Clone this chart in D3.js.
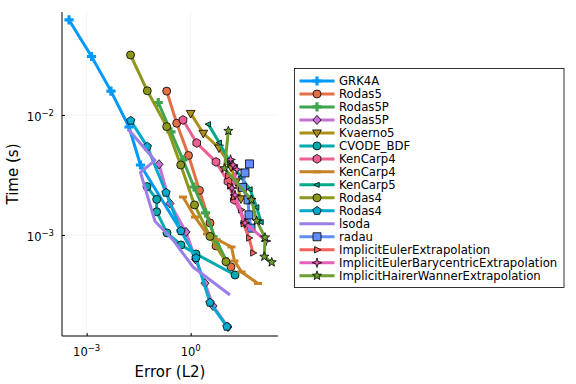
<!DOCTYPE html>
<html>
<head>
<meta charset="utf-8">
<script src="https://cdn.jsdelivr.net/npm/d3@7"></script>
<style>
  body { margin: 0; background: #fff; }
  text { font-family: "DejaVu Sans", sans-serif; }
</style>
</head>
<body>
<svg id="chart" width="576" height="384"></svg>
<script>
// series labels, colours and markers (in legend order)
const names = ["GRK4A", "Rodas5", "Rodas5P", "Rodas5P", "Kvaerno5", "CVODE_BDF", "KenCarp4", "KenCarp4",
  "KenCarp5", "Rodas4", "Rodas4", "lsoda", "radau", "ImplicitEulerExtrapolation",
  "ImplicitEulerBarycentricExtrapolation", "ImplicitHairerWannerExtrapolation"];
const colors = ["#009AFA", "#E36F47", "#3EA44E", "#C371D2", "#AC8E18", "#00AAAE", "#ED5E93", "#C68225",
  "#00A98D", "#8E971D", "#00A9CD", "#9B7FE9", "#618DF6", "#F4615C", "#E561B7", "#6AA031"];
const markers = ["cross", "circle", "cross", "diamond", "dtriangle", "circle", "hexagon", "hline",
  "ltriangle", "circle", "pentagon", "none", "rect", "rtriangle", "star4", "star5"];

// error (L2) and time (s) for each series
const errGRK4A = [3.09e-4, 1.38e-3, 5.02e-3, 1.66e-2, 3.56e-2, 0.525];
const timeGRK4A = [6.19e-2, 3.07e-2, 1.58e-2, 7.94e-3, 3.83e-3, 1.08e-3];
const errRodas5 = [0.203, 0.395, 0.865, 1.79, 3.60, 5.37, 14.5];
const timeRodas5 = [1.58e-2, 8.53e-3, 4.60e-3, 2.35e-3, 1.26e-3, 8.10e-4, 5.41e-4];
const errRodas5P = [0.116, 0.270, 0.600, 1.245, 2.67, 5.37, 11.1];
const timeRodas5P = [1.27e-2, 7.22e-3, 4.22e-3, 2.51e-3, 1.53e-3, 9.09e-4, 5.96e-4];
const errRodas5P2 = [0.122, 0.253, 0.732, 1.375, 2.59, 4.40, 11.9];
const timeRodas5P2 = [3.88e-3, 1.83e-3, 1.06e-3, 6.27e-4, 3.96e-4, 2.56e-4, 1.71e-4];
const errKvaerno5 = [1.0, 2.31, 6.55, 14.5, 20.3, 28.2];
const timeKvaerno5 = [1.03e-2, 7.04e-3, 5.31e-3, 3.69e-3, 2.77e-3, 2.0e-3];
const errCVODE = [5.49e-2, 0.1045, 0.1045, 0.207, 0.525, 1.42, 19.0];
const timeCVODE = [2.53e-3, 1.98e-3, 1.56e-3, 1.04e-3, 8.25e-4, 6.95e-4, 4.64e-4];
const errKenCarp4 = [0.600, 1.49, 5.37, 11.9, 18.1, 36.8];
const timeKenCarp4 = [9.08e-3, 5.84e-3, 4.06e-3, 2.79e-3, 1.96e-3, 1.27e-3];
const errKenCarp4b = [0.600, 1.33, 2.95, 15.0, 18.3, 29.2, 87.3];
const timeKenCarp4b = [2.07e-3, 1.41e-3, 1.02e-3, 7.94e-4, 6.07e-4, 4.92e-4, 3.94e-4];
const errKenCarp5 = [3.22, 6.68, 13.6, 28.2, 51.3, 80.1, 107];
const timeKenCarp5 = [8.37e-3, 5.88e-3, 4.06e-3, 3.04e-3, 2.40e-3, 1.70e-3, 1.28e-3];
const errRodas4 = [1.84e-2, 5.60e-2, 0.203, 0.515, 1.29, 3.60, 10.4];
const timeRodas4 = [3.16e-2, 1.59e-2, 7.99e-3, 3.83e-3, 1.78e-3, 9.72e-4, 5.99e-4];
const errRodas4b = [1.86e-2, 5.60e-2, 0.194, 0.525, 1.42, 3.60, 11.1];
const timeRodas4b = [8.96e-3, 5.45e-3, 2.25e-3, 1.08e-3, 6.43e-4, 2.73e-4, 1.72e-4];
const errLsoda = [1.58e-2, 9.34e-2, 3.56e-2, 9.34e-2, 0.309, 1.165, 13.6];
const timeLsoda = [7.60e-3, 4.18e-3, 3.32e-3, 1.30e-3, 9.09e-4, 5.41e-4, 3.16e-4];
const errRadau = [49.7, 36.8, 31.2, 45.0, 48.0, 54.9];
const timeRadau = [3.91e-3, 3.29e-3, 2.49e-3, 1.96e-3, 1.47e-3, 1.14e-3];
const errIEE = [11.9, 13.6, 17.7, 28.2, 33.3, 48.0, 62.7];
const timeIEE = [3.10e-3, 2.56e-3, 2.07e-3, 1.62e-3, 1.24e-3, 9.44e-4, 7.08e-4];
const errIEBE = [14.1, 16.6, 21.6, 15.5, 19.0, 36.8, 149];
const timeIEBE = [4.26e-3, 3.83e-3, 3.51e-3, 2.46e-3, 2.15e-3, 1.26e-3, 8.91e-4];
const errIHWE = [12.2, 9.44, 56.7, 80.1, 139, 133, 217];
const timeIHWE = [7.36e-3, 3.59e-3, 1.96e-3, 1.31e-3, 9.53e-4, 6.59e-4, 5.92e-4];

const errs = [errGRK4A, errRodas5, errRodas5P, errRodas5P2, errKvaerno5, errCVODE, errKenCarp4, errKenCarp4b,
  errKenCarp5, errRodas4, errRodas4b, errLsoda, errRadau, errIEE, errIEBE, errIHWE];
const times = [timeGRK4A, timeRodas5, timeRodas5P, timeRodas5P2, timeKvaerno5, timeCVODE, timeKenCarp4, timeKenCarp4b,
  timeKenCarp5, timeRodas4, timeRodas4b, timeLsoda, timeRadau, timeIEE, timeIEBE, timeIHWE];

const xTicks = [1e-3, 1];
const xTickExp = ["−3", "0"];
const yTicks = [1e-2, 1e-3];
const yTickExp = ["−2", "−3"];

const svg = d3.select("#chart");
const pLeft = 62, pRight = 278, pTop = 12, pBottom = 336;

const x = d3.scaleLog().domain([Math.pow(10, -3.712), Math.pow(10, 2.518)]).range([pLeft, pRight]);
const y = d3.scaleLog().domain([Math.pow(10, -3.842), Math.pow(10, -1.142)]).range([pBottom, pTop]);

// grid
svg.append("g").selectAll("line").data(xTicks).enter().append("line")
  .attr("x1", d => x(d)).attr("x2", d => x(d)).attr("y1", pTop).attr("y2", pBottom)
  .attr("stroke", "#000").attr("stroke-opacity", 0.1).attr("stroke-width", 0.5);
svg.append("g").selectAll("line").data(yTicks).enter().append("line")
  .attr("y1", d => y(d)).attr("y2", d => y(d)).attr("x1", pLeft).attr("x2", pRight)
  .attr("stroke", "#000").attr("stroke-opacity", 0.1).attr("stroke-width", 0.5);

// axes
const xAxis = d3.axisBottom(x).tickValues(xTicks).tickSizeInner(-3).tickSizeOuter(0).tickFormat("");
const yAxis = d3.axisLeft(y).tickValues(yTicks).tickSizeInner(-3).tickSizeOuter(0).tickFormat("");
svg.append("g").attr("transform", `translate(0,${pBottom})`).call(xAxis)
  .call(g => g.select(".domain").attr("d", `M${pLeft},0H${pRight}`).attr("stroke-width", 1));
svg.append("g").attr("transform", `translate(${pLeft},0)`).call(yAxis)
  .call(g => g.select(".domain").attr("d", `M0,${pTop}V${pBottom}`).attr("stroke-width", 1));

xTicks.forEach((t, i) => {
  const tx = svg.append("text").attr("x", x(t)).attr("y", 355.5)
    .attr("text-anchor", "middle").attr("font-size", 11.5).attr("fill", "#000");
  tx.append("tspan").text("10");
  tx.append("tspan").attr("dy", -5).attr("font-size", 8.5).text(xTickExp[i]);
});
yTicks.forEach((t, i) => {
  const tx = svg.append("text").attr("x", 54).attr("y", y(t) + 6.5)
    .attr("text-anchor", "end").attr("font-size", 11.5).attr("fill", "#000");
  tx.append("tspan").text("10");
  tx.append("tspan").attr("dy", -5).attr("font-size", 8.5).text(yTickExp[i]);
});

svg.append("text").attr("x", (pLeft + pRight) / 2).attr("y", 377).attr("text-anchor", "middle")
  .attr("font-size", 15).text("Error (L2)");
svg.append("text").attr("transform", `translate(17.5,${(pTop + pBottom) / 2}) rotate(-90)`)
  .attr("text-anchor", "middle").attr("font-size", 15).text("Time (s)");

// marker shapes
function poly(pts) { return "M" + pts.map(p => p[0].toFixed(2) + "," + p[1].toFixed(2)).join("L") + "Z"; }
function regular(n, r, rot) {
  return d3.range(n).map(k => {
    const a = rot + k * 2 * Math.PI / n;
    return [r * Math.cos(a), r * Math.sin(a)];
  });
}
function star(n, r, ri) {
  return d3.range(2 * n).map(k => {
    const a = -Math.PI / 2 + k * Math.PI / n;
    const rr = k % 2 ? ri : r;
    return [rr * Math.cos(a), rr * Math.sin(a)];
  });
}
function markerPath(shape, r) {
  switch (shape) {
    case "circle": return d3.symbol(d3.symbolCircle, Math.PI * r * r)();
    case "rect": return poly([[-r, -r], [r, -r], [r, r], [-r, r]]);
    case "diamond": return poly([[0, -r * 1.15], [r * 1.0, 0], [0, r * 1.15], [-r * 1.0, 0]]);
    case "dtriangle": return poly([[-r * 1.1, -r * 0.75], [r * 1.1, -r * 0.75], [0, r * 1.15]]);
    case "ltriangle": return poly([[-r * 0.8, 0], [r * 0.55, -r * 0.65], [r * 0.55, r * 0.65]]);
    case "rtriangle": return poly([[r * 0.95, 0], [-r * 0.6, -r * 0.8], [-r * 0.6, r * 0.8]]);
    case "pentagon": return poly(regular(5, r * 1.1, -Math.PI / 2));
    case "hexagon": return poly(regular(6, r * 1.1, -Math.PI / 2));
    case "star4": return poly(star(4, r * 1.2, r * 0.4));
    case "star5": return poly(star(5, r * 1.2, r * 0.5));
    case "cross": {
      const w = 1.6, a = r * 1.15;
      return poly([[-w, -a], [w, -a], [w, -w], [a, -w], [a, w], [w, w], [w, a], [-w, a], [-w, w], [-a, w], [-a, -w], [-w, -w]]);
    }
    case "hline": return poly([[-r, -1.5], [r, -1.5], [r, 1.5], [-r, 1.5]]);
    default: return null;
  }
}
const noStroke = ["cross", "hline"];

const line = d3.line().x(d => x(d[0])).y(d => y(d[1]));
const plot = svg.append("g");

names.forEach((name, i) => {
  const pts = errs[i].map((e, k) => [e, times[i][k]]);
  const g = plot.append("g");
  g.append("path").datum(pts).attr("d", line).attr("fill", "none")
    .attr("stroke", colors[i]).attr("stroke-width", 3).attr("stroke-linejoin", "round");
  const mp = markerPath(markers[i], 4);
  if (mp) {
    g.selectAll("path.m").data(pts).enter().append("path").attr("class", "m")
      .attr("d", mp).attr("transform", d => `translate(${x(d[0])},${y(d[1])})`)
      .attr("fill", colors[i])
      .attr("stroke", noStroke.includes(markers[i]) ? "none" : "#000")
      .attr("stroke-width", 0.8);
  }
});

// legend
const lg = svg.append("g");
lg.append("rect").attr("x", 294.5).attr("y", 68.5).attr("width", 269.5).attr("height", 219)
  .attr("fill", "#fff").attr("stroke", "#000").attr("stroke-width", 0.8);
names.forEach((name, i) => {
  const cy = 81 + i * 12.98;
  lg.append("line").attr("x1", 299.5).attr("x2", 334.5).attr("y1", cy).attr("y2", cy)
    .attr("stroke", colors[i]).attr("stroke-width", 3);
  const mp = markerPath(markers[i], 4);
  if (mp) {
    lg.append("path").attr("d", mp).attr("transform", `translate(317,${cy})`)
      .attr("fill", colors[i])
      .attr("stroke", noStroke.includes(markers[i]) ? "none" : "#000").attr("stroke-width", 0.8);
  }
  lg.append("text").attr("x", 339).attr("y", cy + 4.2).attr("font-size", 11.7).text(name);
});
</script>
</body>
</html>
